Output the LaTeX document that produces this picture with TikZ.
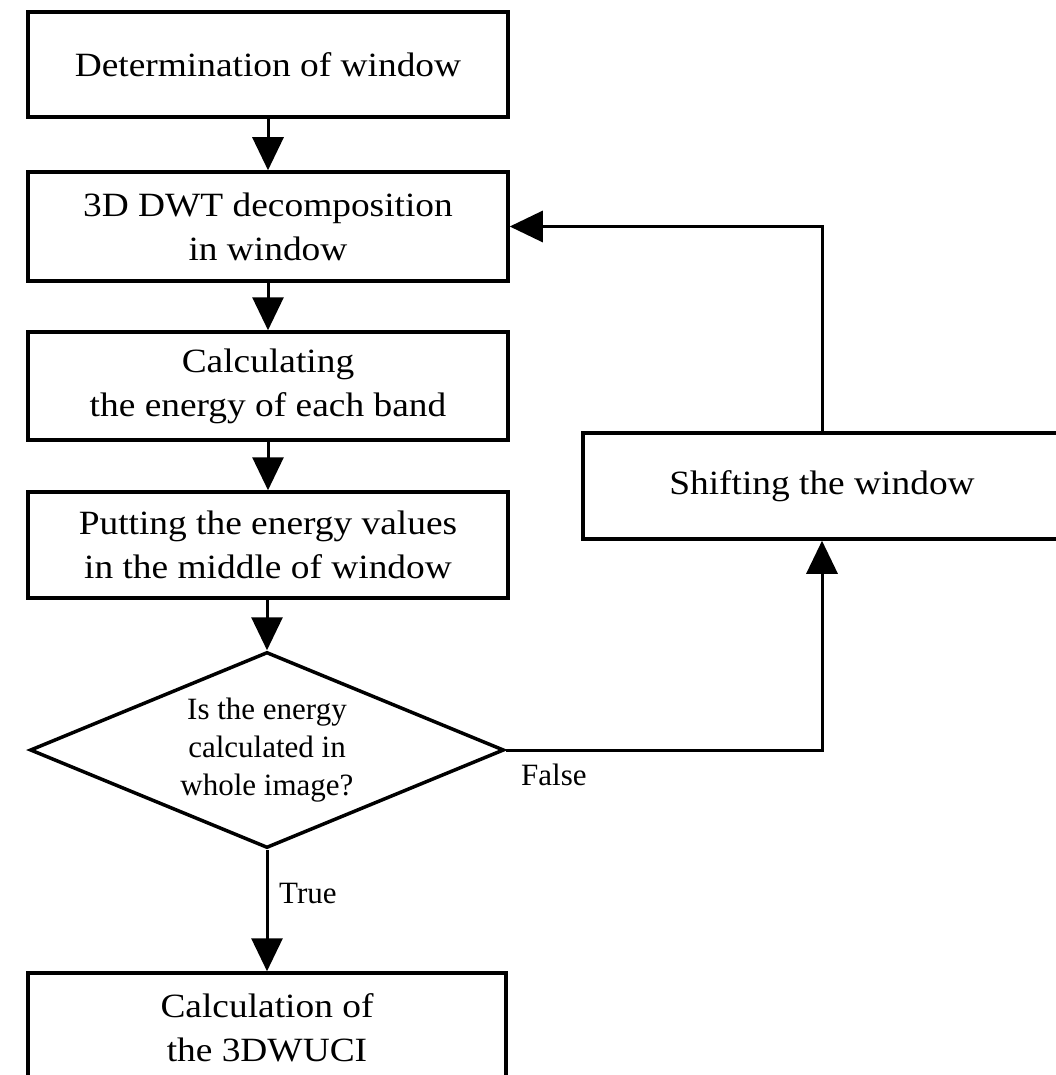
\documentclass[tikz,border=0pt]{standalone}
\usepackage{fontspec}
\setmainfont{Liberation Serif}[FakeStretch=1.1]
\newfontfamily\smallserif{Liberation Serif}
\usetikzlibrary{arrows.meta,shapes.geometric}
\begin{document}
\begin{tikzpicture}[x=1pt,y=-1pt,
  box/.style={draw,line width=3.5pt,minimum width=480pt,inner sep=0pt,align=center,font=\fontsize{34}{44}\selectfont},
  dec/.style={draw,diamond,aspect=2.42,line width=3.5pt,minimum width=474pt,minimum height=196pt,inner sep=0pt,align=center,font=\smallserif\fontsize{31}{38}\selectfont},
  lbl/.style={font=\smallserif\fontsize{31}{38}\selectfont,inner sep=0pt},
  flow/.style={line width=3pt,-{Triangle[length=33pt,width=31pt]}}]
\useasboundingbox (0,0) rectangle (1055,1075);
\node[box,minimum height=105pt] (b1) at (268,64.5) {Determination of window};
\node[box,minimum height=109pt] (b2) at (268,226.5) {3D DWT decomposition\\in window};
\node[box,minimum height=108pt] (b3) at (268,386) {Calculating\\the energy of each band};
\node[box,minimum height=106pt] (b4) at (268,545) {Putting the energy values\\in the middle of window};
\node[dec] (d) at (267,750) {Is the energy\\calculated in\\whole image?};
\node[box,minimum width=478pt,minimum height=110pt] (b5) at (267,1028) {Calculation of\\the 3DWUCI};
\node[box,minimum width=478pt,minimum height=106pt] (s) at (822,486) {Shifting the window};
\node[lbl,anchor=base west] (tl) at (279,903) {True};
\node[lbl,anchor=base west] (fl) at (521,785) {False};
\draw[flow] (b1.south) -- (b2.north);
\draw[flow] (b2.south) -- (b3.north);
\draw[flow] (b3.south) -- (b4.north);
\draw[flow] (b4.south -| d.north) -- (d.north);
\draw[flow] (d.south) -- (d.south |- b5.north);
\draw[flow] (d.east) -| (s.south);
\draw[flow] (s.north) |- (b2.east);
\end{tikzpicture}
\end{document}
